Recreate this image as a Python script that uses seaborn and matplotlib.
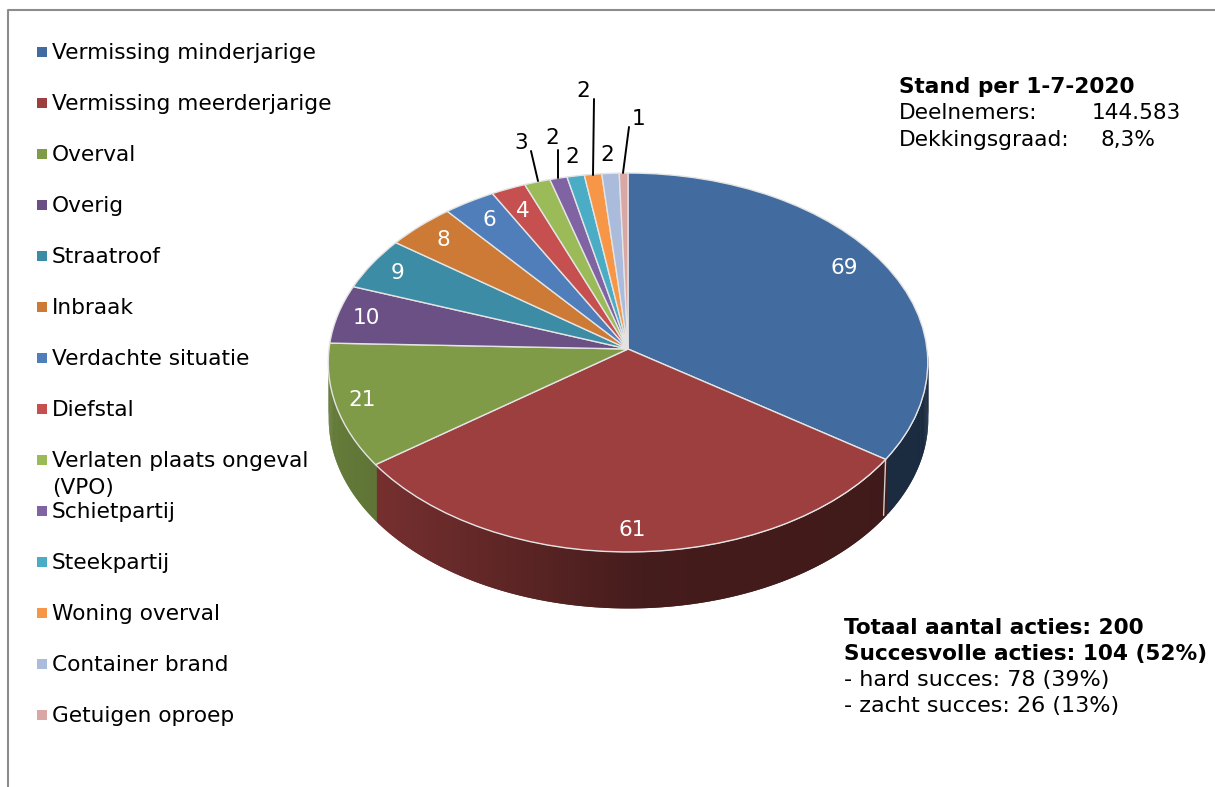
import numpy as np
import matplotlib
matplotlib.use("Agg")
import matplotlib.pyplot as plt
import matplotlib.transforms as mtransforms
import seaborn as sns

categories = [
    "Vermissing minderjarige", "Vermissing meerderjarige", "Overval", "Overig",
    "Straatroof", "Inbraak", "Verdachte situatie", "Diefstal",
    "Verlaten plaats ongeval\n(VPO)", "Schietpartij", "Steekpartij",
    "Woning overval", "Container brand", "Getuigen oproep",
]
values = [69, 61, 21, 10, 9, 8, 6, 4, 3, 2, 2, 2, 2, 1]
slice_colors = [
    "#426B9F", "#9E3F3F", "#7F9B48", "#6B5085", "#3D8CA6", "#CC7A35", "#4F7EBB",
    "#C5504F", "#9BBB59", "#7F63A2", "#4BACC6", "#F79646", "#AABBDC", "#D9A7A6",
]

# label positions in picture pixels, same order as values
label_xy = [
    (844, 268), (632, 530), (362, 400), (366, 318), (397, 273), (443, 240), (489, 220),
    (523, 211), (521, 143), (552, 138), (572, 157), (583, 91), (607, 155), (639, 119),
]
leaders = [
    ((531, 151), (538, 181)),
    ((558, 150), (558, 178)),
    ((594, 99), (593, 175)),
    ((629, 127), (623, 173)),
]

WIDTH, HEIGHT = 1215, 787
CX, CY = 628, 349
RX, RY, PERSP = 299, 188.5, 0.0712
DEPTH = 56
FONT = 15.6
LINE_STEP = 27


def project(u, v):
    w = 1 + PERSP * v
    return CX + RX * u / w, CY - RY * v / w


class TiltedPie(mtransforms.Transform):
    """unit pie -> picture pixels, seen from above with some perspective"""
    input_dims = 2
    output_dims = 2

    def transform_non_affine(self, values):
        x, y = project(values[:, 0], values[:, 1])
        return np.column_stack([x, y])


def wall_shade(x):
    return np.interp(x, [328, 640, 928], [0.80, 0.44, 0.40])


sns.set_theme(style="white")
plt.rcParams["font.family"] = ["DejaVu Sans"]
plt.rcParams["text.color"] = "black"
palette = sns.color_palette(slice_colors)

fig = plt.figure(figsize=(WIDTH / 100, HEIGHT / 100), dpi=100)
ax = fig.add_axes([0, 0, 1, 1])

wedges, _ = ax.pie(values, colors=palette, startangle=90, counterclock=False,
                   wedgeprops={"edgecolor": "#E4E4E4", "linewidth": 1.0, "zorder": 3})
ax.set_aspect("auto")
ax.set_xlim(0, WIDTH)
ax.set_ylim(HEIGHT, 0)

tilt = TiltedPie()
for wedge, color in zip(wedges, palette):
    wedge.set_transform(tilt + ax.transData)

    # side wall of the slice, only the front half shows.
    # strips overlap the next one so no seams come out of the antialiasing
    angles = np.radians(np.arange(wedge.theta1, wedge.theta2 + 0.5, 0.5))
    angles = angles[np.sin(angles) <= 0]
    if len(angles) < 2:
        continue
    rim_x, rim_y = project(np.cos(angles), np.sin(angles))
    for i in range(len(angles) - 1):
        shade = np.clip(np.array(color) * wall_shade(rim_x[i]), 0, 1)
        ax.fill_between(rim_x[i:i + 3], rim_y[i:i + 3], rim_y[i:i + 3] + DEPTH,
                        color=shade, linewidth=0, zorder=1)

# light seams where the visible walls meet
for theta in [wedges[0].theta2, wedges[1].theta2]:
    sx, sy = project(np.cos(np.radians(theta)), np.sin(np.radians(theta)))
    ax.plot([sx, sx - (1 if sx > CX else -1) * 2], [sy, sy + DEPTH], color="#D0D0D0", lw=1, zorder=2)

# slice labels
for i, (val, (lx, ly)) in enumerate(zip(values, label_xy)):
    inside = i < 8
    ax.text(lx, ly, str(val), color="white" if inside else "black", fontsize=FONT,
            ha="center", va="center", zorder=5)
for (p0, p1) in leaders:
    ax.plot([p0[0], p1[0]], [p0[1], p1[1]], color="black", lw=1.4, zorder=4)

# legend, fixed step so the two-line entry runs into the next one
for i, (name, color) in enumerate(zip(categories, palette)):
    y = 52 + 51 * i
    ax.fill_between([37, 47], y - 5, y + 5, color=color, linewidth=0, zorder=3)
    for j, line in enumerate(name.split("\n")):
        ax.text(52, y + 7 + j * LINE_STEP, line, fontsize=FONT, ha="left", va="baseline")

# frame of the original chart, only left and top are on the picture
ax.plot([8, 8, WIDTH], [HEIGHT, 10, 10], color="#8C8C8C", lw=1.5, zorder=1)

# text boxes
ax.text(899, 87, "Stand per 1-7-2020", fontsize=FONT, fontweight="bold", va="center")
ax.text(899, 113, "Deelnemers:", fontsize=FONT, va="center")
ax.text(1181, 113, "144.583", fontsize=FONT, va="center", ha="right")
ax.text(899, 140, "Dekkingsgraad:", fontsize=FONT, va="center")
ax.text(1156, 140, "8,3%", fontsize=FONT, va="center", ha="right")

ax.text(844, 628, "Totaal aantal acties: 200", fontsize=FONT, fontweight="bold", va="center")
ax.text(844, 654, "Succesvolle acties: 104 (52%)", fontsize=FONT, fontweight="bold", va="center")
ax.text(844, 680, "- hard succes: 78 (39%)", fontsize=16, va="center")
ax.text(844, 706, "- zacht succes: 26 (13%)", fontsize=16, va="center")

fig.savefig("out.png", dpi=100)
